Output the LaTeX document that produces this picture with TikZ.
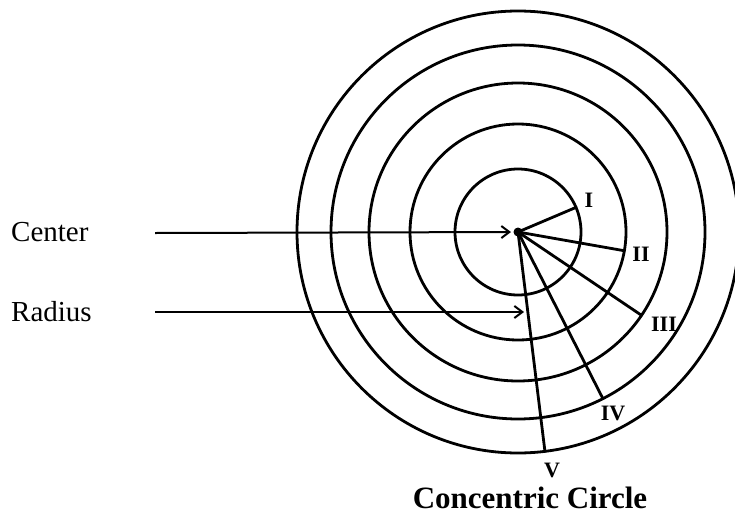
\documentclass[tikz,border=0pt]{standalone}
\usepackage{fontspec}
\setmainfont{Liberation Serif}
\usepackage{tikz}
\usetikzlibrary{calc,arrows.meta,positioning}

\begin{document}
\begin{tikzpicture}[x=1pt, y=-1pt,
    ring/.style={line width=2.8pt},
    spoke/.style={line width=2.8pt, line cap=round},
    pointer/.style={line width=2pt, -{Straight Barb[length=8pt,width=12pt,line width=2pt]}},
    numeral/.style={font=\fontsize{22}{24}\selectfont\bfseries, inner sep=0pt},
    sidelabel/.style={font=\fontsize{29}{32}\selectfont, anchor=west, inner sep=0pt}]
      \useasboundingbox (0,0) rectangle (735,514);
      \coordinate (O) at (518,232);
      \foreach \r in {63,108,149,187,221} {
        \draw[ring] (O) circle (\r);
      }
      % radii to each ring
      \coordinate (p1) at ($(O)+(-23:63)$);
      \coordinate (p2) at ($(O)+(10:108)$);
      \coordinate (p3) at ($(O)+(34:149)$);
      \coordinate (p4) at ($(O)+(63:187)$);
      \coordinate (p5) at ($(O)+(83:221)$);
      \foreach \p in {p1,p2,p3,p4,p5} {
        \draw[spoke] (O) -- (\p);
      }
      \fill (O) circle (4.5);
      \node[numeral] (nI) at (589,200) {I};
      \node[numeral] (nII) at (641,254) {II};
      \node[numeral] (nIII) at (664,324) {III};
      \node[numeral] (nIV) at (613,413) {IV};
      \node[numeral] (nV) at (552,470) {V};
      \node[sidelabel] (ctr) at (11,232) {Center};
      \node[sidelabel] (rad) at (11,312) {Radius};
      \coordinate (ctrtail) at (155,233);
      \coordinate (radtail) at (155,312);
      \coordinate (radtip) at (524,312);
      \draw[pointer, shorten >=7pt] (ctrtail) -- (O);
      \draw[pointer] (radtail) -- (radtip);
      \node[font=\fontsize{31}{34}\selectfont\bfseries] (title) at (530,498) {Concentric Circle};
    \end{tikzpicture}
\end{document}
